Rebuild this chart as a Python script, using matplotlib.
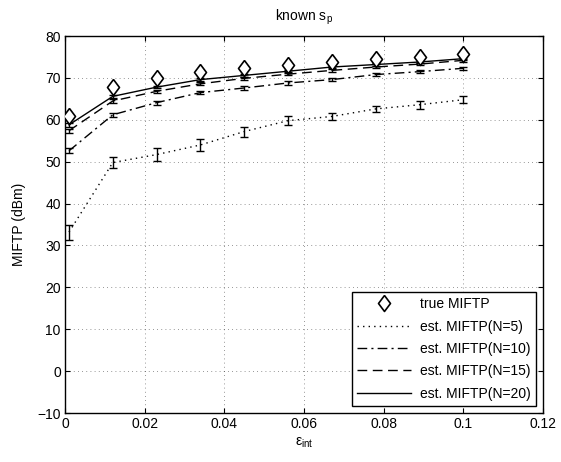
import numpy as np
import matplotlib.pyplot as plt
from matplotlib.lines import Line2D

plt.rcParams['font.family'] = ['Liberation Sans', 'DejaVu Sans']
plt.rcParams['font.size'] = 10
plt.rcParams['mathtext.fontset'] = 'custom'
plt.rcParams['mathtext.rm'] = 'Liberation Sans'
plt.rcParams['mathtext.it'] = 'Liberation Sans'

eps = [0.001, 0.012, 0.023, 0.034, 0.045, 0.056, 0.067, 0.078, 0.089, 0.1]
true_miftp = [61.0, 67.8, 70.0, 71.4, 72.4, 73.2, 73.8, 74.5, 75.1, 75.6]
est_n5 = [33.2, 49.8, 51.7, 54.0, 57.2, 59.8, 60.8, 62.6, 63.6, 64.8]
err_n5 = [1.8, 1.3, 1.5, 1.4, 1.2, 1.0, 0.9, 0.8, 0.9, 0.8]
est_n10 = [52.6, 61.2, 64.1, 66.5, 67.6, 68.8, 69.6, 70.8, 71.5, 72.3]
err_n10 = [0.6, 0.5, 0.5, 0.4, 0.4, 0.4, 0.4, 0.4, 0.4, 0.4]
est_n15 = [57.4, 64.5, 66.8, 68.6, 69.9, 70.9, 71.8, 72.6, 73.3, 74.2]
err_n15 = [0.5, 0.4, 0.4, 0.4, 0.3, 0.3, 0.3, 0.3, 0.3, 0.3]
est_n20 = [58.8, 65.6, 67.8, 69.6, 70.6, 71.6, 72.6, 73.2, 73.8, 74.6]
err_n20 = [0.4, 0.3, 0.3, 0.3, 0.3, 0.3, 0.3, 0.3, 0.3, 0.3]

labels = ['true MIFTP', 'est. MIFTP(N=5)', 'est. MIFTP(N=10)',
          'est. MIFTP(N=15)', 'est. MIFTP(N=20)']
styles = [(0, (1, 3)), (0, (7, 3, 1.5, 3)), (0, (7, 4)), '-']

fig = plt.figure(figsize=(5.61, 4.62), dpi=100)
ax = fig.add_axes([0.1159, 0.106, 0.852, 0.816])

diamond = [(0, 1), (0.75, 0), (0, -1), (-0.75, 0), (0, 1)]
ax.plot(eps, true_miftp, color='k', marker=diamond, markerfacecolor='white',
        markersize=11.5, markeredgewidth=1.2, linestyle='none', zorder=5)

series = [(est_n5, err_n5), (est_n10, err_n10), (est_n15, err_n15), (est_n20, err_n20)]
for (vals, errs), ls in zip(series, styles):
    ax.errorbar(eps, vals, yerr=errs, color='k', ecolor='k', capsize=3,
                elinewidth=1.0, capthick=1.0, linewidth=1.0, linestyle=ls)

ax.set_xlim(0, 0.12)
ax.set_ylim(-10, 80)
ax.set_xticks(np.arange(0, 0.121, 0.02))
ax.set_xticklabels(['0', '0.02', '0.04', '0.06', '0.08', '0.1', '0.12'])
ax.set_yticks(np.arange(-10, 81, 10))
ax.set_yticklabels(['\u221210'] + [str(v) for v in range(0, 81, 10)])
ax.tick_params(direction='in', top=True, right=True, labelsize=10, pad=3)
ax.grid(True, color='k', linestyle=(0, (1, 4)), linewidth=0.6, alpha=0.55)
for s in ax.spines.values():
    s.set_linewidth(1.0)

ax.set_title('known s$_\\mathregular{p}$', fontsize=10, pad=11)
ax.set_xlabel('$\\mathregular{\\varepsilon_{int}}$', fontsize=10, labelpad=3)
ax.set_ylabel('MIFTP (dBm)', fontsize=10, labelpad=8)

handles = [Line2D([], [], color='k', marker=diamond, markerfacecolor='white',
                  markersize=11.5, markeredgewidth=1.2, linestyle='none')]
handles += [Line2D([], [], color='k', linewidth=1.0, linestyle=ls) for ls in styles]
leg = ax.legend(handles, labels, loc='lower right', fontsize=10, fancybox=False,
                edgecolor='k', framealpha=1, handlelength=3.9, labelspacing=0.6,
                borderaxespad=0.5, handletextpad=0.6)
leg.get_frame().set_linewidth(1.0)

fig.savefig('out.png', dpi=100)
